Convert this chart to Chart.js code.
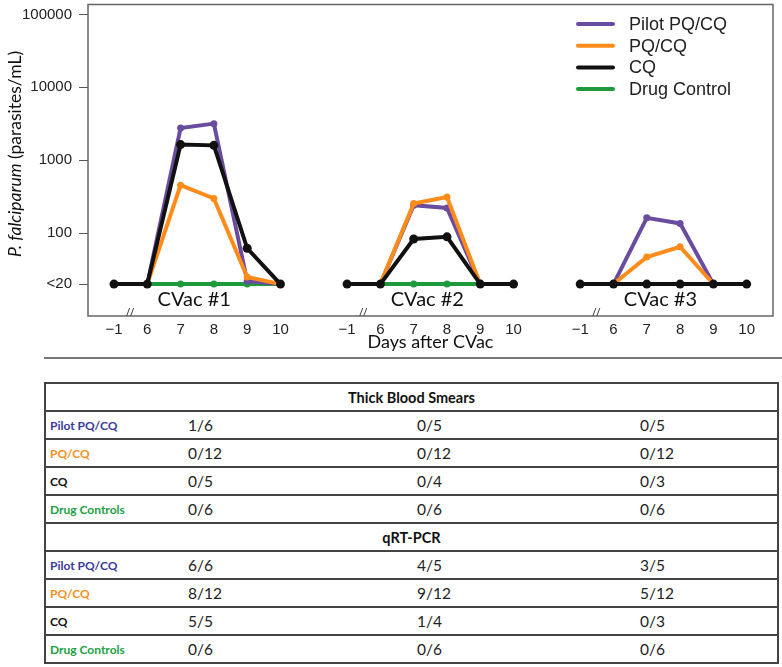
<!DOCTYPE html>
<html>
<head>
<meta charset="utf-8">
<script src="https://cdn.jsdelivr.net/npm/chart.js@4.4.1/dist/chart.umd.min.js"></script>
<style>
  body { margin: 0; background: #fff; width: 782px; height: 667px; position: relative; overflow: hidden; }
  #chart-wrap { position: absolute; left: 0; top: 0; width: 782px; height: 362px; }
  #sep { position: absolute; left: 44px; top: 357px; width: 738px; border-top: 2px solid #777; }
  table { position: absolute; left: 44px; top: 382px; width: 735px; border-collapse: collapse; table-layout: fixed;
          font-family: Lato, "Open Sans", sans-serif; border: 2px solid #444; }
  td { height: 26px; border-top: 2px solid #444; border-bottom: 2px solid #444; padding: 0; font-size: 15.5px; color: #222; }
  td.lab { font-weight: bold; font-size: 12px; padding-left: 4px; }
  td.v1 { padding-left: 4px; }
  td.v2 { padding-left: 3px; }
  td.v3 { padding-left: 3px; }
  td.head { text-align: center; font-weight: bold; font-size: 14.5px; color: #111; }
</style>
</head>
<body>
<div id="chart-wrap"><canvas id="parasite-chart" width="782" height="362"></canvas></div>
<div id="sep"></div>
<table id="result-table">
  <colgroup><col style="width:139px"><col style="width:230px"><col style="width:223px"><col></colgroup>
  <tbody id="table-body"></tbody>
</table>
<script>
// Days after each CVac (tick labels) and CVac names
const dayLabels = ["\u22121", "6", "7", "8", "9", "10"];
const cvacLabels = ["CVac #1", "CVac #2", "CVac #3"];
const yTickValues = [20, 100, 1000, 10000, 100000];
const yTickLabels = ["<20", "100", "1000", "10000", "100000"];

// parasites/mL, one row per CVac, one value per day (20 = "<20")
const pilotPqcq = [
    [20, 20, 2770, 3180, 22, 20],
    [20, 20, 242, 222, 20, 20],
    [20, 20, 162, 136, 20, 20],
];
const pqcq = [
    [20, 20, 455, 299, 25, 20],
    [20, 20, 255, 314, 20, 20],
    [20, 20, 47, 65, 20, 20],
];
const cq = [
    [20, 20, 1640, 1600, 62, 20],
    [20, 20, 83, 89, 20, 20],
    [20, 20, 20, 20, 20, 20],
];
const drugControl = [
    [20, 20, 20, 20, 20, 20],
    [20, 20, 20, 20, 20, 20],
    [20, 20, 20, 20, 20, 20],
];

// table data
const tableGroups = ["Pilot PQ/CQ", "PQ/CQ", "CQ", "Drug Controls"];
const groupColors = ["#3b3b9b", "#f7901e", "#111111", "#22a043"];
const smearResults = [
    ["1/6", "0/5", "0/5"],
    ["0/12", "0/12", "0/12"],
    ["0/5", "0/4", "0/3"],
    ["0/6", "0/6", "0/6"],
];
const pcrResults = [
    ["6/6", "4/5", "3/5"],
    ["8/12", "9/12", "5/12"],
    ["5/5", "1/4", "0/3"],
    ["0/6", "0/6", "0/6"],
];

const GROUP_STEP = dayLabels.length + 1;

function toPoints(rows) {
    const pts = [];
    rows.forEach((row, g) => {
        row.forEach((v, i) => pts.push({ x: g * GROUP_STEP + i, y: v }));
        pts.push({ x: g * GROUP_STEP + row.length, y: null });
    });
    return pts;
}

const tickPositions = [];
cvacLabels.forEach((_, g) => dayLabels.forEach((_, i) => tickPositions.push(g * GROUP_STEP + i)));

function series(label, rows, color, order, radius) {
    return {
        label: label,
        data: toPoints(rows),
        borderColor: color,
        backgroundColor: color,
        borderWidth: 4,
        pointRadius: radius,
        pointHoverRadius: radius,
        pointBorderWidth: 0,
        spanGaps: false,
        tension: 0,
        order: order,
    };
}

const decorations = {
    id: "decorations",
    afterDraw(chart) {
        const ctx = chart.ctx;
        const area = chart.chartArea;
        const x = chart.scales.x;
        ctx.save();
        // frame
        ctx.strokeStyle = "#666";
        ctx.lineWidth = 1.5;
        ctx.strokeRect(area.left, area.top, area.right - area.left, area.bottom - area.top);

        // CVac labels + axis breaks
        ctx.fillStyle = "#111";
        ctx.font = "20px Lato";
        ctx.textAlign = "center";
        ctx.textBaseline = "middle";
        cvacLabels.forEach((lab, g) => {
            const cx = x.getPixelForValue(g * GROUP_STEP + (dayLabels.length - 1) / 2);
            ctx.fillText(lab, cx - 3, area.bottom - 16);
            const bx = x.getPixelForValue(g * GROUP_STEP + 0.5);
            ctx.strokeStyle = "#444";
            ctx.lineWidth = 1;
            [-2, 2].forEach(d => {
                ctx.beginPath();
                ctx.moveTo(bx + d - 2, area.bottom);
                ctx.lineTo(bx + d + 1, area.bottom - 8);
                ctx.stroke();
            });
        });

        // y title
        ctx.translate(15, 154);
        ctx.rotate(-Math.PI / 2);
        const part1 = "P. falciparum";
        const part2 = " (parasites/mL)";
        ctx.font = "italic 17.5px Lato";
        const w1 = ctx.measureText(part1).width;
        ctx.font = "17.5px Lato";
        const w2 = ctx.measureText(part2).width;
        ctx.textAlign = "left";
        ctx.fillStyle = "#111";
        ctx.font = "italic 17.5px Lato";
        ctx.fillText(part1, -(w1 + w2) / 2, 0);
        ctx.font = "17.5px Lato";
        ctx.fillText(part2, -(w1 + w2) / 2 + w1, 0);
        ctx.restore();

        // legend
        ctx.save();
        ctx.font = "18px 'Liberation Sans'";
        ctx.textBaseline = "middle";
        ctx.textAlign = "left";
        chart.data.datasets.forEach((ds, i) => {
            const ly = 24 + i * 21.7;
            ctx.strokeStyle = ds.borderColor;
            ctx.lineWidth = 4;
            ctx.lineCap = "round";
            ctx.beginPath();
            ctx.moveTo(578, ly);
            ctx.lineTo(613, ly);
            ctx.stroke();
            ctx.fillStyle = "#222";
            ctx.fillText(ds.label, 629, ly + 1);
        });
        ctx.restore();
    },
};

new Chart(document.getElementById("parasite-chart"), {
    type: "line",
    data: {
        datasets: [
            series("Pilot PQ/CQ", pilotPqcq, "#6a4c9e", 2, 3.5),
            series("PQ/CQ", pqcq, "#ff8c1a", 1, 3.5),
            series("CQ", cq, "#111111", 0, 4.5),
            series("Drug Control", drugControl, "#1e9a3c", 3, 3.5),
        ],
    },
    options: {
        responsive: false,
        animation: false,
        layout: { padding: { top: 3, right: 9, left: 0, bottom: 0 } },
        plugins: { legend: { display: false }, tooltip: { enabled: false } },
        scales: {
            x: {
                type: "linear",
                min: -0.78,
                max: 19.79,
                grid: { display: false },
                border: { display: false },
                afterBuildTicks(scale) {
                    scale.ticks = tickPositions.map(v => ({ value: v }));
                },
                afterFit(scale) {
                    scale.height = 46;
                    scale.paddingLeft = 0;
                    scale.paddingRight = 0;
                },
                ticks: {
                    autoSkip: false,
                    maxRotation: 0,
                    padding: -3,
                    color: "#222",
                    font: { family: "Liberation Sans", size: 15 },
                    callback: v => dayLabels[v % GROUP_STEP],
                },
                title: {
                    display: true,
                    text: "Days after CVac",
                    color: "#111",
                    font: { family: "Lato", size: 18 },
                    padding: { top: 0, bottom: 9 },
                },
            },
            y: {
                type: "logarithmic",
                min: 7.3,
                max: 137000,
                border: { display: false },
                grid: { drawOnChartArea: false, drawTicks: true, tickLength: 9, color: "#555" },
                afterBuildTicks(scale) {
                    scale.ticks = yTickValues.map(v => ({ value: v }));
                },
                afterFit(scale) {
                    scale.width = 88;
                    scale.paddingTop = 0;
                    scale.paddingBottom = 0;
                },
                ticks: {
                    padding: 7,
                    color: "#222",
                    font: { family: "Liberation Sans", size: 15 },
                    callback: v => yTickLabels[yTickValues.indexOf(v)],
                },
            },
        },
    },
    plugins: [decorations],
});

// table
const tbody = document.getElementById("table-body");
function addHead(text) {
    const tr = document.createElement("tr");
    const td = document.createElement("td");
    td.colSpan = 4;
    td.className = "head";
    td.textContent = text;
    tr.appendChild(td);
    tbody.appendChild(tr);
}
function addRows(results) {
    results.forEach((row, r) => {
        const tr = document.createElement("tr");
        const lab = document.createElement("td");
        lab.className = "lab";
        lab.style.color = groupColors[r];
        lab.textContent = tableGroups[r];
        tr.appendChild(lab);
        row.forEach((v, c) => {
            const td = document.createElement("td");
            td.className = "v" + (c + 1);
            td.textContent = v;
            tr.appendChild(td);
        });
        tbody.appendChild(tr);
    });
}
addHead("Thick Blood Smears");
addRows(smearResults);
addHead("qRT-PCR");
addRows(pcrResults);
</script>
</body>
</html>
